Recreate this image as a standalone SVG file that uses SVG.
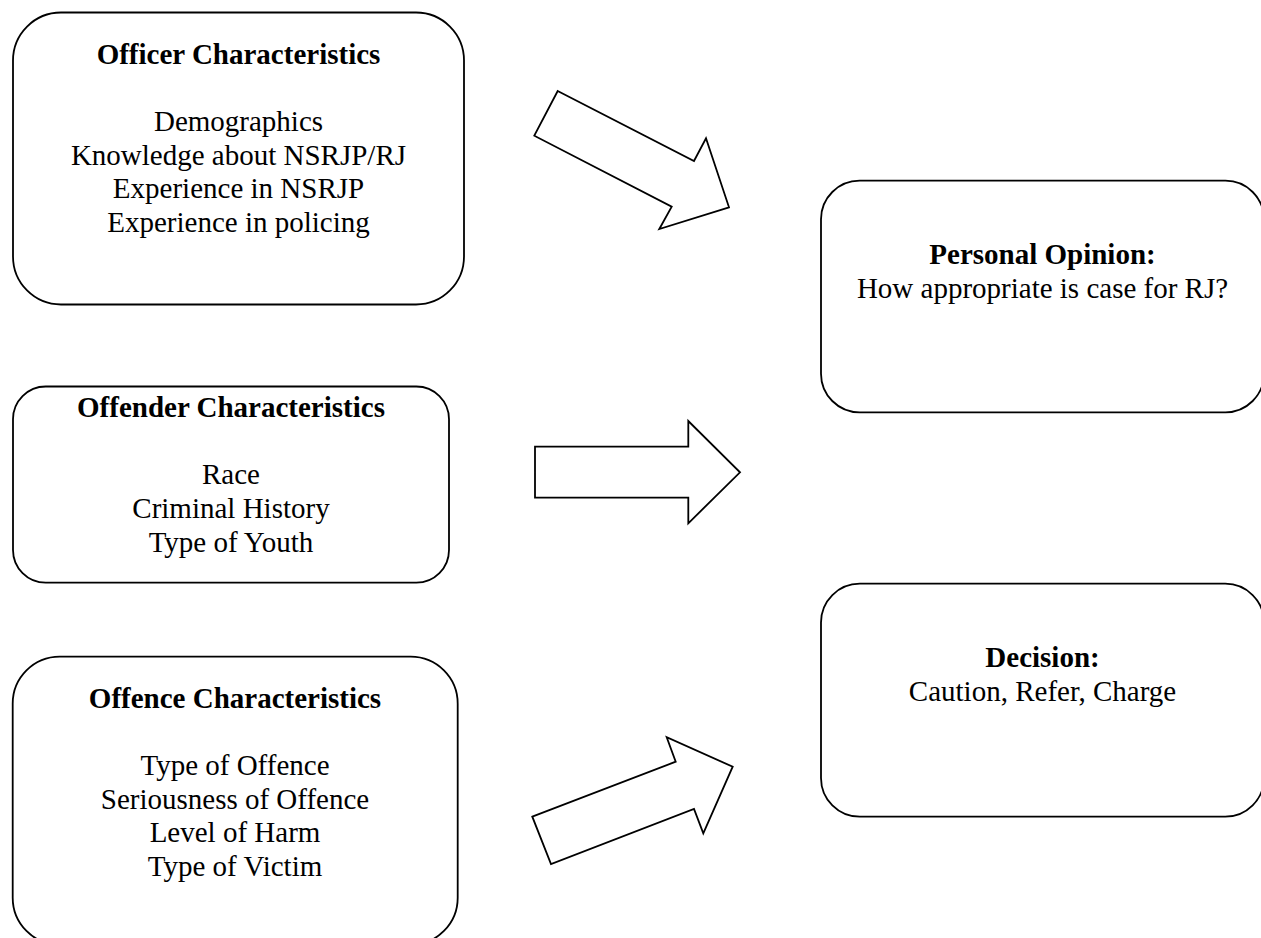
<svg xmlns="http://www.w3.org/2000/svg" width="1261" height="938" viewBox="0 0 1261 938">
<style>
.box{fill:#fff;stroke:#000;stroke-width:1.8}
.arr{fill:#fff;stroke:#000;stroke-width:1.8;stroke-linejoin:miter}
text{font-family:"Liberation Serif","Times New Roman",serif;font-size:29px;fill:#000;text-anchor:middle}
.b{font-weight:bold}
</style>
<rect width="1261" height="938" fill="#fff"/>
<g id="officer">
<rect class="box" x="13" y="12.5" width="451" height="292" rx="48" ry="48"/>
<text x="238.5" y="64.3" class="b">Officer Characteristics</text>
<text x="238.5" y="131">Demographics</text>
<text x="238.5" y="164.7">Knowledge about NSRJP/RJ</text>
<text x="238.5" y="198.3">Experience in NSRJP</text>
<text x="238.5" y="232">Experience in policing</text>
</g>
<g id="offender">
<rect class="box" x="13" y="386.5" width="436" height="196.2" rx="32.7" ry="32.7"/>
<text x="231" y="416.7" class="b">Offender Characteristics</text>
<text x="231" y="484.3">Race</text>
<text x="231" y="517.8">Criminal History</text>
<text x="231" y="551.5">Type of Youth</text>
</g>
<g id="offence">
<rect class="box" x="12.7" y="656.7" width="445" height="288" rx="47" ry="47"/>
<text x="235" y="708.3" class="b">Offence Characteristics</text>
<text x="235" y="775.3">Type of Offence</text>
<text x="235" y="808.8">Seriousness of Offence</text>
<text x="235" y="842.3">Level of Harm</text>
<text x="235" y="875.8">Type of Victim</text>
</g>
<g id="opinion">
<rect class="box" x="821" y="180.7" width="443" height="231.6" rx="38.6" ry="38.6"/>
<text x="1042.5" y="264.3" class="b">Personal Opinion:</text>
<text x="1042.5" y="297.7">How appropriate is case for RJ?</text>
</g>
<g id="decision">
<rect class="box" x="821" y="583.7" width="443" height="233" rx="38.8" ry="38.8"/>
<text x="1042.5" y="667.3" class="b">Decision:</text>
<text x="1042.5" y="700.7">Caution, Refer, Charge</text>
</g>
<g id="connectors">
<polygon class="arr" points="557.7,91 694,161 706,138.3 729,207.3 659.3,229 671.7,206.7 534.3,135.7"/>
<polygon class="arr" points="535,446.7 688.3,446.7 688.3,421 740,472.3 688.3,523.3 688.3,497.7 535,497.7"/>
<polygon class="arr" points="532.3,816.7 675.7,761.7 666.7,737.3 732.7,766.7 703.3,833.3 694,809 551,864"/>
</g>
</svg>
